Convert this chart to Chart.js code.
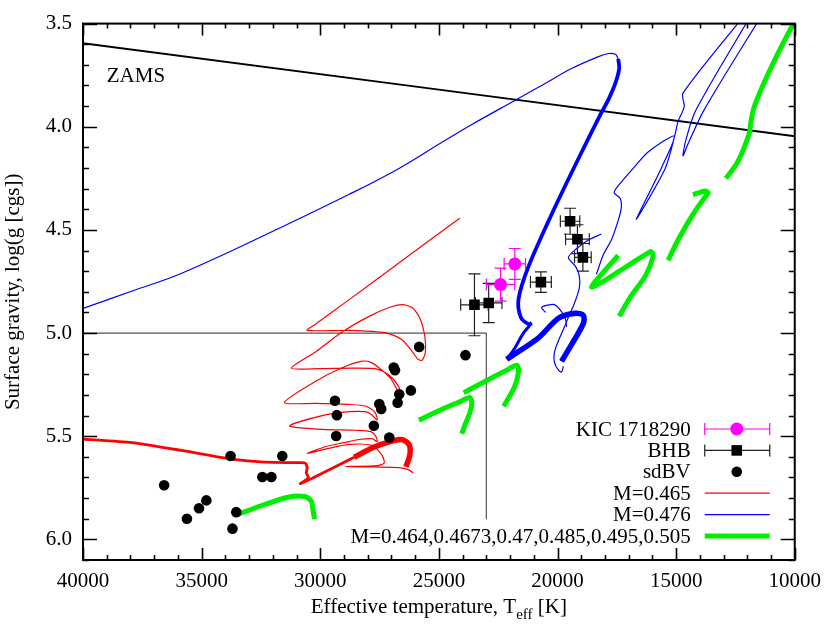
<!DOCTYPE html>
<html lang="en">
<head>
<meta charset="UTF-8">
<title>Surface gravity vs effective temperature</title>
<script src="https://cdn.jsdelivr.net/npm/chart.js"></script>
<style>
  html, body { margin: 0; padding: 0; background: #fff; }
  #plot { display: block; }
</style>
</head>
<body>
<canvas id="plot" width="830" height="628"></canvas>
<script>
// axis tick labels
const xTicks = [40000, 35000, 30000, 25000, 20000, 15000, 10000];
const yTicks = [3.5, 4.0, 4.5, 5.0, 5.5, 6.0];

// KIC 1718290 (two solutions) with error bars
const kicT = [21800, 22400];
const kicG = [4.665, 4.765];
const kicErrT = [450, 600];
const kicErrG = [0.075, 0.08];

// BHB stars
const bhbT = [23500, 22900, 20700, 19470, 19160, 18930];
const bhbG = [4.863, 4.854, 4.753, 4.458, 4.545, 4.633];
const bhbErrT = [580, 560, 440, 410, 500, 350];
const bhbErrG = [0.15, 0.095, 0.05, 0.063, 0.07, 0.067];

// sdBV stars
const sdbvT = [36580, 35620, 35110, 34800, 33780, 33540, 33700, 32440, 32060, 31600, 29380, 29300,
               29330, 27740, 27510, 27430, 27090, 26900, 26850, 26670, 26740, 26180, 25830, 23880];
const sdbvG = [5.738, 5.900, 5.849, 5.811, 5.596, 5.868, 5.948, 5.698, 5.698, 5.596, 5.328, 5.398,
               5.499, 5.449, 5.344, 5.368, 5.506, 5.167, 5.180, 5.297, 5.338, 5.278, 5.067, 5.107];

// ZAMS line and the boxed region
const zamsT = [40000, 25000, 10000];
const zamsG = [3.595, 3.820, 4.046];
const boxT = [40000, 23000, 23000];
const boxG = [5.0, 5.0, 5.9];

// M=0.465 track: flash loops (thin), ZAHB part (medium), core He burning (thick)
const redThinT = [24120, 25420, 27100, 28780, 30250, 30550,
  28780, 27230, 26550, 26130, 25880, 25710, 25570, 25590, 25800, 26130, 26550, 27100, 27940, 29080, 30170, 31220,
  30040, 28570, 27600, 27060, 26720, 26600, 26760, 27020, 27400, 27860, 28280, 29080, 30170, 31510,
  30170, 28780, 28070, 27690, 27600, 27860, 28110, 28780, 29830, 31300,
  29920, 28490, 27860, 27650, 27600, 27820, 28360, 28990, 29750, 30550,
  29830, 28780, 27820, 27400, 27310, 27730, 28950, 27730, 26680, 26260, 26090];
const redThinG = [4.444, 4.553, 4.696, 4.838, 4.961, 4.987,
  4.987, 4.999, 5.032, 5.089, 5.127, 5.132, 5.094, 5.018, 4.928, 4.876, 4.862, 4.876, 4.919, 4.995, 5.089, 5.170,
  5.172, 5.170, 5.175, 5.208, 5.255, 5.293, 5.274, 5.222, 5.180, 5.142, 5.137, 5.168, 5.232, 5.336,
  5.341, 5.346, 5.355, 5.384, 5.422, 5.393, 5.381, 5.381, 5.398, 5.450,
  5.467, 5.471, 5.478, 5.502, 5.526, 5.512, 5.516, 5.531, 5.550, 5.583,
  5.564, 5.540, 5.545, 5.592, 5.630, 5.644, 5.647, 5.649, 5.652, 5.663, 5.678];
const redMidT = [40000, 37940, 35840, 33740, 32350, 30880, 30630, 30550, 30590, 30500, 30710, 30840, 30380, 29620, 28570];
const redMidG = [5.514, 5.531, 5.569, 5.611, 5.626, 5.628, 5.630, 5.654, 5.678, 5.701, 5.720, 5.730, 5.706, 5.663, 5.602];
const redThickT = [28570, 28030, 27440, 26600, 26260, 26220, 26390];
const redThickG = [5.602, 5.569, 5.540, 5.516, 5.540, 5.588, 5.649];

// M=0.476 track
const blueArcT = [40000, 37900, 35840, 31640, 28820, 26680, 24920, 23610, 21760, 20500, 19410, 18400, 17860, 17560, 17440];
const blueArcG = [4.881, 4.795, 4.710, 4.487, 4.330, 4.202, 4.079, 3.989, 3.870, 3.789, 3.718, 3.666, 3.645, 3.649, 3.671];
const blueThickAT = [17440, 17400, 17560, 17860, 18150, 19120, 20250, 21220, 21640, 21550, 21220, 21090];
const blueThickAG = [3.671, 3.718, 3.789, 3.870, 3.932, 4.155, 4.425, 4.677, 4.833, 4.923, 4.957, 4.952];
const blueMidT = [21090, 21430, 21810, 22140];
const blueMidG = [4.952, 4.999, 5.075, 5.127];
const blueThickBT = [22140, 20800, 19960, 19240, 18910, 18910, 19410, 19830];
const blueThickBG = [5.127, 5.023, 4.928, 4.904, 4.914, 4.953, 5.056, 5.137];
const blueLoopT = [11300, 13820, 14500, 14710, 14580, 14160, 11760];
const blueLoopG = [3.443, 3.918, 4.084, 4.141, 4.060, 3.918, 3.443];
const blueDescT = [12000, 14710, 14660, 14920, 15040, 15460, 16680, 15630, 15080, 16180, 16810, 17520, 17610, 17350, 17310, 17440, 17730, 18070, 18360];
const blueDescG = [3.443, 3.837, 3.903, 3.974, 4.036, 4.202, 4.449, 4.202, 4.046, 4.122, 4.202, 4.297, 4.321, 4.349, 4.392, 4.454, 4.549, 4.620, 4.715];
const blueHookT = [18150, 18700, 19200, 19540, 19240, 19080, 19080, 19290, 19540, 19710, 19960, 20130, 20130, 19960, 19830, 19750];
const blueHookG = [4.520, 4.549, 4.591, 4.634, 4.677, 4.724, 4.781, 4.857, 4.923, 4.971, 5.037, 5.094, 5.142, 5.180, 5.189, 5.161];
const blueCurlT = [20500, 20670, 20460, 20130, 19870, 19660, 19620];
const blueCurlG = [4.900, 4.876, 4.866, 4.862, 4.890, 4.933, 4.971];

// M=0.464 ... 0.505 tracks (green)
const g464T = [33460, 32340, 31360, 30660, 30380, 30310, 30240];
const g464G = [5.878, 5.831, 5.796, 5.792, 5.815, 5.855, 5.902];
const g4673T = [25840, 24870, 24080, 23700, 23610, 23700, 23870, 24030];
const g4673G = [5.422, 5.369, 5.331, 5.312, 5.336, 5.388, 5.436, 5.488];
const g470T = [23950, 23030, 22060, 21720, 21640, 21810, 22270];
const g470G = [5.289, 5.232, 5.175, 5.156, 5.184, 5.260, 5.355];
const g485T = [17440, 18030, 18570, 17980, 17140, 16300, 16050, 15970, 16300, 16890, 17400];
const g485G = [4.624, 4.700, 4.776, 4.743, 4.681, 4.620, 4.605, 4.629, 4.724, 4.819, 4.919];
const g495T = [15340, 14920, 14370, 13870, 13650, 13780, 14290];
const g495G = [4.648, 4.549, 4.439, 4.354, 4.321, 4.311, 4.330];
const g505T = [12900, 12400, 11930, 11850, 11720, 11340, 10800, 10340, 9950];
const g505G = [4.250, 4.169, 4.036, 3.979, 3.908, 3.799, 3.666, 3.562, 3.480];

const legendLabels = ['KIC 1718290', 'BHB', 'sdBV', 'M=0.465', 'M=0.476', 'M=0.464,0.4673,0.47,0.485,0.495,0.505'];

const FONT = "'Liberation Serif', 'DejaVu Serif', serif";
const RED = '#ff0000', BLUE = '#0000ff', GREEN = '#00ee00', MAGENTA = '#ff00ff';

function pts(ts, gs) {
  return ts.map((t, i) => ({ x: t, y: gs[i] }));
}
function track(ts, gs, color, width, tension) {
  return {
    data: pts(ts, gs), showLine: true, borderColor: color, borderWidth: width,
    pointRadius: 0, pointHoverRadius: 0, fill: false, tension: tension || 0,
    borderCapStyle: 'butt', borderJoinStyle: 'round'
  };
}
function markers(ts, gs, color, style, radius) {
  return {
    data: pts(ts, gs), showLine: false, pointStyle: style, pointRadius: radius,
    pointBackgroundColor: color, pointBorderWidth: 0, pointHoverRadius: radius
  };
}

// index 0 is drawn last (on top)
const datasets = [
  markers(kicT, kicG, MAGENTA, 'circle', 6.5),
  markers(bhbT, bhbG, '#000', 'rect', 7.5),
  markers(sdbvT, sdbvG, '#000', 'circle', 5.3),
  track(g464T, g464G, GREEN, 5, 0.3),
  track(g4673T, g4673G, GREEN, 5, 0.3),
  track(g470T, g470G, GREEN, 5, 0.3),
  track(g485T, g485G, GREEN, 5, 0.3),
  track(g495T, g495G, GREEN, 5, 0.3),
  track(g505T, g505G, GREEN, 5, 0.3),
  track(blueThickBT, blueThickBG, BLUE, 5.5, 0.3),
  track(blueMidT, blueMidG, BLUE, 3, 0.3),
  track(blueThickAT, blueThickAG, BLUE, 3.8, 0.3),
  track(blueArcT, blueArcG, BLUE, 1.2, 0.4),
  track(blueLoopT, blueLoopG, BLUE, 1.2, 0.3),
  track(blueDescT, blueDescG, BLUE, 1.2, 0.25),
  track(blueHookT, blueHookG, BLUE, 1.2, 0.3),
  track(blueCurlT, blueCurlG, BLUE, 1.2, 0.3),
  track(redThickT, redThickG, RED, 5.5, 0.3),
  track(redMidT, redMidG, RED, 2.8, 0.2),
  track(redThinT, redThinG, RED, 1.2, 0.25),
  track(zamsT, zamsG, '#000', 2),
  track(boxT, boxG, '#555', 1.2)
];

const errorSets = {
  0: { t: kicT, g: kicG, et: kicErrT, eg: kicErrG, color: MAGENTA },
  1: { t: bhbT, g: bhbG, et: bhbErrT, eg: bhbErrG, color: '#222' }
};

function errBar(ctx, x, y, x0, x1, y0, y1, cap) {
  ctx.beginPath();
  if (x0 !== null) {
    ctx.moveTo(x0, y); ctx.lineTo(x1, y);
    ctx.moveTo(x0, y - cap); ctx.lineTo(x0, y + cap);
    ctx.moveTo(x1, y - cap); ctx.lineTo(x1, y + cap);
  }
  if (y0 !== null) {
    ctx.moveTo(x, y0); ctx.lineTo(x, y1);
    ctx.moveTo(x - cap, y0); ctx.lineTo(x + cap, y0);
    ctx.moveTo(x - cap, y1); ctx.lineTo(x + cap, y1);
  }
  ctx.stroke();
}

// error bars under their markers
const errorBarPlugin = {
  id: 'errorBars',
  beforeDatasetDraw(chart, args) {
    const set = errorSets[args.index];
    if (!set) return;
    const ctx = chart.ctx, xs = chart.scales.x, ys = chart.scales.y;
    ctx.save();
    ctx.strokeStyle = set.color;
    ctx.lineWidth = 1.2;
    set.t.forEach((t, i) => {
      const x = xs.getPixelForValue(t), y = ys.getPixelForValue(set.g[i]);
      errBar(ctx, x, y,
        xs.getPixelForValue(t - set.et[i]), xs.getPixelForValue(t + set.et[i]),
        ys.getPixelForValue(set.g[i] - set.eg[i]), ys.getPixelForValue(set.g[i] + set.eg[i]), 6);
    });
    ctx.restore();
  }
};

// frame, inward ticks on all sides, labels, legend
const decorPlugin = {
  id: 'decor',
  afterDraw(chart) {
    const ctx = chart.ctx, a = chart.chartArea, xs = chart.scales.x, ys = chart.scales.y;
    ctx.save();
    ctx.strokeStyle = '#000';
    ctx.lineWidth = 1.6;
    ctx.beginPath();
    for (let t = 10000; t <= 40000; t += 1000) {
      const px = Math.round(xs.getPixelForValue(t)) + 0.5;
      const len = t % 5000 === 0 ? 12 : 5;
      ctx.moveTo(px, a.bottom); ctx.lineTo(px, a.bottom - len);
      ctx.moveTo(px, a.top); ctx.lineTo(px, a.top + len);
    }
    for (let k = 35; k <= 61; k++) {
      const py = Math.round(ys.getPixelForValue(k / 10)) + 0.5;
      const len = k % 5 === 0 ? 14 : 6;
      ctx.moveTo(a.left, py); ctx.lineTo(a.left + len, py);
      ctx.moveTo(a.right, py); ctx.lineTo(a.right - len, py);
    }
    ctx.stroke();
    ctx.lineWidth = 2;
    ctx.strokeRect(a.left, a.top, a.right - a.left, a.bottom - a.top);

    ctx.fillStyle = '#000';
    ctx.font = '21px ' + FONT;
    ctx.textAlign = 'left';
    ctx.textBaseline = 'alphabetic';
    ctx.fillText('ZAMS', xs.getPixelForValue(39000), ys.getPixelForValue(3.785));

    // y title
    ctx.save();
    ctx.translate(19, (a.top + a.bottom) / 2);
    ctx.rotate(-Math.PI / 2);
    ctx.textAlign = 'center';
    ctx.fillText('Surface gravity, log(g [cgs])', 0, 0);
    ctx.restore();

    // x title with subscript
    const p1 = 'Effective temperature, T', sub = 'eff', p2 = ' [K]';
    ctx.font = '21px ' + FONT;
    const w1 = ctx.measureText(p1).width, w3 = ctx.measureText(p2).width;
    ctx.font = '15px ' + FONT;
    const w2 = ctx.measureText(sub).width;
    let x = (a.left + a.right) / 2 - (w1 + w2 + w3) / 2;
    const base = 613;
    ctx.font = '21px ' + FONT;
    ctx.fillText(p1, x, base); x += w1;
    ctx.font = '15px ' + FONT;
    ctx.fillText(sub, x, base + 6); x += w2;
    ctx.font = '21px ' + FONT;
    ctx.fillText(p2, x, base);

    // legend
    const tx = a.right - 104, s0 = a.right - 90, s1 = a.right - 25, mx = a.right - 58;
    ctx.textAlign = 'right';
    ctx.textBaseline = 'middle';
    legendLabels.forEach((lab, i) => {
      const y = a.bottom - 131 + i * 21.4;
      ctx.fillStyle = '#000';
      ctx.fillText(lab, tx, y + 1);
      if (i === 0 || i === 1) {
        ctx.strokeStyle = i === 0 ? MAGENTA : '#222';
        ctx.lineWidth = 1.2;
        errBar(ctx, mx, y, s0, s1, null, null, 6);
        ctx.fillStyle = i === 0 ? MAGENTA : '#000';
        ctx.beginPath();
        if (i === 0) ctx.arc(mx, y, 6.5, 0, Math.PI * 2);
        else ctx.rect(mx - 5.3, y - 5.3, 10.6, 10.6);
        ctx.fill();
      } else if (i === 2) {
        ctx.beginPath();
        ctx.arc(mx, y, 5.3, 0, Math.PI * 2);
        ctx.fill();
      } else {
        ctx.strokeStyle = [RED, BLUE, GREEN][i - 3];
        ctx.lineWidth = [1.2, 1.2, 5][i - 3];
        ctx.beginPath();
        ctx.moveTo(s0, y); ctx.lineTo(s1, y);
        ctx.stroke();
      }
    });
    ctx.restore();
  }
};

new Chart(document.getElementById('plot'), {
  type: 'scatter',
  data: { datasets: datasets },
  options: {
    responsive: false,
    animation: false,
    devicePixelRatio: 1,
    layout: { padding: { top: 12, right: 33, left: 0, bottom: 0 } },
    plugins: { legend: { display: false }, tooltip: { enabled: false } },
    scales: {
      x: {
        type: 'linear', position: 'bottom', reverse: true, min: 10000, max: 40000,
        afterBuildTicks: s => { s.ticks = xTicks.map(v => ({ value: v })); },
        afterFit: s => { s.height = 68; },
        grid: { display: false, drawTicks: false },
        border: { display: false },
        ticks: {
          color: '#000', font: { family: FONT, size: 21 }, padding: 9,
          maxRotation: 0, autoSkip: false, callback: v => String(v)
        }
      },
      y: {
        type: 'linear', position: 'left', reverse: true, min: 3.5, max: 6.1,
        afterBuildTicks: s => { s.ticks = yTicks.map(v => ({ value: v })); },
        afterFit: s => { s.width = 83; },
        grid: { display: false, drawTicks: false },
        border: { display: false },
        ticks: {
          color: '#000', font: { family: FONT, size: 21 }, padding: 11,
          autoSkip: false, callback: v => v.toFixed(1)
        }
      }
    }
  },
  plugins: [errorBarPlugin, decorPlugin]
});
</script>
</body>
</html>
